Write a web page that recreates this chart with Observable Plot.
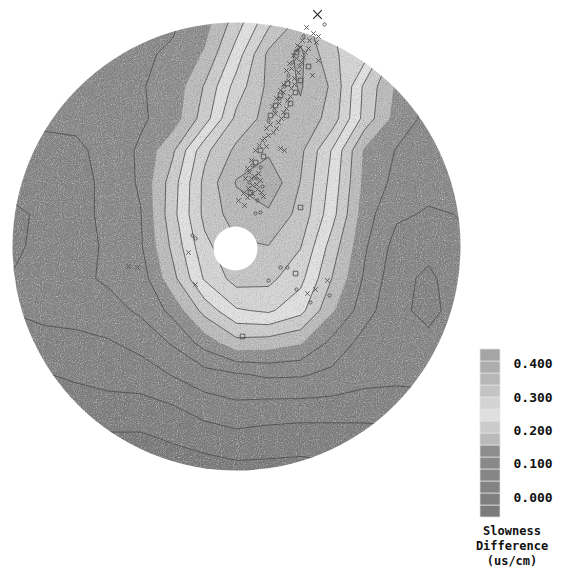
<!DOCTYPE html>
<html><head><meta charset="utf-8">
<script src="https://cdn.jsdelivr.net/npm/d3@7"></script>
<script src="https://cdn.jsdelivr.net/npm/@observablehq/plot@0.6"></script>
<style>
body{margin:0;background:#fff;width:564px;height:571px;overflow:hidden;position:relative;font-family:"DejaVu Sans Mono",monospace}
#map{position:absolute;left:0;top:0}
#legend{position:absolute;left:474px;top:340px}
#caption{position:absolute;left:462px;top:524px;width:100px;text-align:center;font-size:12px;line-height:15px;color:#111;white-space:pre;font-weight:bold}
</style></head><body>
<div id="map"></div><div id="legend"></div>
<div id="caption">Slowness
Difference
(us/cm)</div>
<script>
// Slowness difference (us/cm) sampled on a 15 x 15 grid over the disc (rows top -> bottom, columns left -> right)
const gridCols = 15, gridRows = 15;
const gridExtent = {x1: -240, x2: 240, y1: 240, y2: -240};
const discRadius = 224;
const row00 = [0.11, 0.11, 0.11, 0.11, 0.11, 0.115, 0.14, 0.21, 0.29, 0.35, 0.30, 0.25, 0.16, 0.11, 0.10];
const row01 = [0.11, 0.11, 0.11, 0.11, 0.115, 0.125, 0.16, 0.245, 0.345, 0.38, 0.305, 0.28, 0.17, 0.11, 0.09];
const row02 = [0.11, 0.11, 0.105, 0.115, 0.118, 0.13, 0.195, 0.28, 0.345, 0.375, 0.33, 0.22, 0.15, 0.11, 0.10];
const row03 = [0.10, 0.09, 0.095, 0.10, 0.115, 0.135, 0.21, 0.31, 0.35, 0.365, 0.32, 0.215, 0.14, 0.11, 0.10];
const row04 = [0.08, 0.075, 0.075, 0.10, 0.125, 0.185, 0.29, 0.345, 0.365, 0.345, 0.26, 0.15, 0.118, 0.105, 0.095];
const row05 = [0.06, 0.06, 0.07, 0.095, 0.125, 0.21, 0.31, 0.375, 0.40, 0.335, 0.25, 0.145, 0.11, 0.095, 0.09];
const row06 = [0.04, 0.055, 0.07, 0.095, 0.118, 0.215, 0.31, 0.355, 0.365, 0.325, 0.24, 0.135, 0.09, 0.08, 0.085];
const row07 = [0.04, 0.06, 0.07, 0.09, 0.115, 0.20, 0.29, 0.33, 0.335, 0.302, 0.21, 0.125, 0.07, 0.06, 0.08];
const row08 = [0.05, 0.065, 0.075, 0.09, 0.10, 0.18, 0.268, 0.315, 0.31, 0.275, 0.19, 0.115, 0.06, 0.04, 0.07];
const row09 = [0.05, 0.055, 0.06, 0.07, 0.09, 0.13, 0.205, 0.26, 0.27, 0.24, 0.16, 0.10, 0.055, 0.04, 0.06];
const row10 = [0.03, 0.04, 0.04, 0.045, 0.06, 0.088, 0.135, 0.18, 0.175, 0.16, 0.11, 0.07, 0.058, 0.055, 0.06];
const row11 = [0.0, 0.01, 0.02, 0.025, 0.03, 0.05, 0.07, 0.08, 0.09, 0.088, 0.075, 0.062, 0.058, 0.058, 0.06];
const row12 = [-0.03, -0.02, -0.01, 0.0, 0.0, 0.01, 0.03, 0.04, 0.035, 0.035, 0.035, 0.03, 0.03, 0.035, 0.04];
const row13 = [-0.05, -0.05, -0.04, -0.03, -0.03, -0.02, -0.01, 0.0, -0.005, -0.01, -0.01, -0.005, 0.0, 0.01, 0.02];
const row14 = [-0.06, -0.06, -0.06, -0.055, -0.05, -0.045, -0.04, -0.035, -0.035, -0.035, -0.03, -0.02, -0.015, -0.005, 0.0];
const slowness = [row00,row01,row02,row03,row04,row05,row06,row07,row08,row09,row10,row11,row12,row13,row14].flat();

// contour levels (lower bound of each band) and band greys
const levels = [-0.06, -0.024, 0.012, 0.048, 0.084, 0.12, 0.156, 0.192, 0.228, 0.264, 0.3, 0.336, 0.372, 0.408];
const legendTop = 0.444;
const bandColors = ["#7b7b7b","#7f7f7f","#838383","#868686","#898989","#8d8d8d","#bababa","#cbcbcb","#dfdfdf","#d3d3d3","#c4c4c4","#b7b7b7","#adadad","#a5a5a5"];
const lineLevels = [-0.024, 0.012, 0.048, 0.084, 0.12, 0.192, 0.228, 0.264, 0.3, 0.336, 0.372, 0.408];
const tickValues = [0, 0.1, 0.2, 0.3, 0.4];

// measurement symbols (x, y relative to disc centre)
const crosses = [[70,219],[77,213],[82,210],[73,206],[80,204],[64,199],[69,194],[60,188],[65,184],[55,178],[62,174],[52,166],[58,162],[47,154],[54,150],[43,143],[50,138],[39,133],[45,128],[34,122],[40,118],[32,111],[44,98],[48,96],[26,106],[19,96],[13,74],[18,70],[24,66],[16,61],[21,57],[7,53],[11,49],[16,53],[27,50],[-48,-6],[-108,-20],[-99,-21],[71,-47],[79,-43],[91,-34],[-41,-38],[82,186],[76,171],
  [66,206],[61,201],[72,198],[57,191],[67,189],[53,183],[63,180],[50,176],[58,168],[47,162],[55,158],[44,156],[51,146],[40,148],[47,134],[36,140],[42,124],[30,118],[37,114],[28,108],[23,101],[30,100],[15,86],[11,78],[22,73],[9,68],[15,68],[20,62],[12,58],[25,54],[2,46],[8,41]];
const rings = [[88,222],[67,210],[61,196],[56,184],[52,171],[48,160],[43,148],[38,136],[32,126],[16,81],[24,79],[20,68],[26,60],[13,64],[21,46],[19,33],[24,34],[-41,8],[-44,11],[44,-21],[51,-21],[32,-34],[60,-43],[93,-49],[74,-56]];
const boxes = [[64,39],[6,-90],[59,-27],[72,180],[64,166],[59,154],[54,143],[50,131],[24,96],[27,90],[60,194],[51,163],[44,151],[39,141],[34,131],[19,84],[14,54]];
const bigCross = [[81,232]];
const hole = [[-1,-2]];

const gridOpts = {width: gridCols, height: gridRows, ...gridExtent};

const plot = Plot.plot({
  width: 564, height: 571,
  marginLeft: 12, marginRight: 104, marginTop: 22, marginBottom: 101,
  x: {domain: [-discRadius, discRadius], axis: null},
  y: {domain: [-discRadius, discRadius], axis: null},
  color: {type: "threshold", domain: levels.slice(1), range: bandColors},
  marks: [
    Plot.contour(slowness, {...gridOpts, fill: Plot.identity, thresholds: levels}),
    Plot.contour(slowness, {...gridOpts, value: Plot.identity, thresholds: lineLevels, fill: "none", stroke: "#4a4a4a", strokeWidth: 0.8}),
    Plot.dot(hole, {x: d => d[0], y: d => d[1], r: 22, fill: "white"}),
    Plot.dot(crosses, {x: d => d[0], y: d => d[1], symbol: "times", r: 2.2, stroke: "#505050", strokeWidth: 0.9}),
    Plot.dot(rings, {x: d => d[0], y: d => d[1], symbol: "circle", r: 1.6, stroke: "#505050", strokeWidth: 0.9, fill: "none"}),
    Plot.dot(boxes, {x: d => d[0], y: d => d[1], symbol: "square", r: 2.6, stroke: "#505050", strokeWidth: 0.9, fill: "none"}),
    Plot.dot(bigCross, {x: d => d[0], y: d => d[1], symbol: "times", r: 4, stroke: "#222", strokeWidth: 1.1})
  ]
});

// clip the filled field and its lines to the disc, add a print-like grain to the fill
const xs = plot.scale("x"), ys = plot.scale("y");
const cx = xs.apply(0), cy = ys.apply(0), rr = xs.apply(discRadius) - cx;
const svg = d3.select(plot);
const defs = svg.insert("defs", ":first-child");
defs.append("clipPath").attr("id", "disc")
  .append("circle").attr("cx", cx).attr("cy", cy).attr("r", rr);
const grain = defs.append("filter").attr("id", "grain").attr("x", 0).attr("y", 0).attr("width", "100%").attr("height", "100%");
grain.append("feTurbulence").attr("type", "fractalNoise").attr("baseFrequency", 0.95).attr("numOctaves", 2).attr("seed", 7).attr("result", "noise");
grain.append("feColorMatrix").attr("in", "noise").attr("type", "saturate").attr("values", 0).attr("result", "grey");
grain.append("feBlend").attr("in", "SourceGraphic").attr("in2", "grey").attr("mode", "overlay").attr("result", "mix");
grain.append("feComposite").attr("in", "mix").attr("in2", "SourceGraphic").attr("operator", "in");
const contourGroups = svg.selectAll('g[aria-label="contour"]').attr("clip-path", "url(#disc)");
contourGroups.filter((d, i) => i === 0).attr("filter", "url(#grain)");
document.getElementById("map").append(plot);

// legend
const bands = levels.map((lo, k) => ({lo, hi: k + 1 < levels.length ? levels[k + 1] : legendTop}));
const legend = Plot.plot({
  width: 90, height: 182, margin: 0,
  x: {domain: [0, 1], range: [6, 26], axis: null},
  y: {domain: [levels[0], legendTop], range: [177, 9], axis: null},
  color: {type: "threshold", domain: levels.slice(1), range: bandColors},
  marks: [
    Plot.rect(bands, {x1: 0, x2: 1, y1: "lo", y2: "hi", fill: "lo", stroke: "#e6e6e6", strokeWidth: 0.7}),
    Plot.text(tickValues, {x: 1, y: d => d, text: d3.format(".3f"), dx: 13, textAnchor: "start", fontFamily: "DejaVu Sans Mono", fontSize: 13, fontWeight: "bold", fill: "#111"})
  ]
});
legend.style.background = "transparent";
document.getElementById("legend").append(legend);
</script>
</body></html>
